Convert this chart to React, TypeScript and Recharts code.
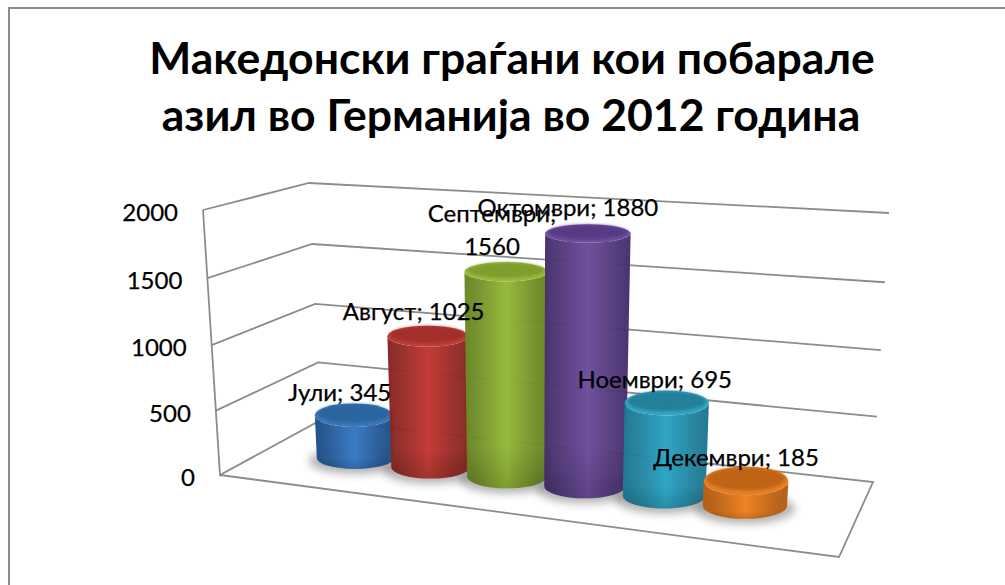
import { BarChart, Bar, XAxis, YAxis, CartesianGrid, LabelList } from "recharts";

// asylum requests per month
const categories = ["Јули", "Август", "Септември", "Октомври", "Ноември", "Декември"];
const requests = [345, 1025, 1560, 1880, 695, 185];
const yTicks = [0, 500, 1000, 1500, 2000];
const titleLines = ["Македонски граѓани кои побарале", "азил во Германија во 2012 година"];

const rows = categories.map((month, i) => ({ month, requests: requests[i] }));

// body colours per cylinder: edge, centre, top face, rim
const palette = [
  ["#20528c", "#3a7cc6", "#2a659f", "#3a78ba"],
  ["#8c2623", "#c43c36", "#a32f2b", "#bd3f3a"],
  ["#6c8a26", "#96bb3a", "#7f9e2e", "#98bc3e"],
  ["#4a3270", "#70509f", "#573b84", "#6f519c"],
  ["#1f7a94", "#2fa6c6", "#24809b", "#33a4c4"],
  ["#b85f14", "#ee8424", "#bf6418", "#e67e24"],
];

const WIDTH = 1005;
const HEIGHT = 585;
const AXIS_W = 40;
const plot = { x: 200, y: 200, w: 680, h: 300 };

// corners of the 3D box on screen (front/back, bottom/top, left/right)
const box = {
  fbl: [220, 475], ftl: [203, 210], fbr: [839, 557], ftr: [860, 255],
  bbl: [321, 420], btl: [309, 183], bbr: [873, 482], btr: [889, 213],
};

const mix = (a: number[], b: number[], t: number) => [a[0] + (b[0] - a[0]) * t, a[1] + (b[1] - a[1]) * t];

// maps u (across), v (up) and d (into the screen), all 0..1, to screen px
function project(u: number, v: number, d: number) {
  const uu = u / (1 + 0.07 * (1 - u));
  const vv = v / (1 + 0.04 * (1 - v));
  const front = mix(mix(box.fbl, box.fbr, uu), mix(box.ftl, box.ftr, uu), vv);
  const back = mix(mix(box.bbl, box.bbr, uu), mix(box.btl, box.btr, uu), vv);
  return mix(front, back, d);
}

const toU = (x: number) => (x - plot.x) / plot.w;
const toV = (y: number) => (plot.y + plot.h - y) / plot.h;

// ellipse of a cylinder slice at height v
function slice(u: number, ru: number, v: number) {
  const [cx, cy] = project(u, v, 0.5);
  const rx = Math.abs(project(u + ru, v, 0.5)[0] - project(u - ru, v, 0.5)[0]) / 2;
  const depth = Math.abs(project(u, v, 1)[1] - project(u, v, 0)[1]);
  return { cx, cy, rx, ry: Math.hypot(0.19 * depth, 6) };
}

function Cylinder(props: any) {
  const { x, y, width, height, index } = props;
  const ru = (width / plot.w / 2) * 1.03;
  const u = toU(x + width / 2);
  const top = slice(u, ru, toV(y));
  const base = slice(u, ru, toV(y + height));
  const baseRy = base.ry * 0.88;
  const colors = palette[index];
  const body =
    `M${top.cx - top.rx} ${top.cy} L${base.cx - base.rx} ${base.cy} ` +
    `A${base.rx} ${baseRy} 0 0 0 ${base.cx + base.rx} ${base.cy} ` +
    `L${top.cx + top.rx} ${top.cy} ` +
    `A${top.rx} ${top.ry} 0 0 1 ${top.cx - top.rx} ${top.cy} Z`;
  return (
    <g>
      <ellipse cx={base.cx} cy={base.cy + 3} rx={base.rx + 8} ry={baseRy + 2} fill="#555" opacity={0.45} filter="url(#floorShadow)" />
      <path d={body} fill={`url(#side${index})`} />
      <path d={body} fill="url(#bottomShade)" />
      <ellipse cx={top.cx} cy={top.cy} rx={top.rx} ry={top.ry} fill={colors[3]} />
      <ellipse cx={top.cx} cy={top.cy - top.ry * 0.14} rx={top.rx * 0.93} ry={top.ry * 0.8} fill={colors[2]} filter="url(#softEdge)" />
    </g>
  );
}

// shifts of the value labels so they sit over the bar tops
const labelShift = [
  [-14, -10],
  [-14, -14],
  [-14, -15],
  [-20, -16],
  [-12, -11],
  [-10, -9],
];

const LABEL_SIZE = 24;
const textInk = { fill: "#000", stroke: "#000", strokeWidth: 0.25 };

function ValueLabel(props: any) {
  const { x, y, width, index, value } = props;
  const u = toU(x + width / 2);
  const s = slice(u, width / plot.w / 2, toV(y));
  const cx = s.cx + labelShift[index][0];
  const cy = s.cy - s.ry + labelShift[index][1];
  const name = categories[index];
  if (name === "Септември") {
    return (
      <text x={cx} textAnchor="middle" fontSize={LABEL_SIZE} {...textInk}>
        <tspan x={cx} y={cy - 25}>{name};</tspan>
        <tspan x={cx} y={cy + 8}>{value}</tspan>
      </text>
    );
  }
  return (
    <text x={cx} y={cy + 8} textAnchor="middle" fontSize={LABEL_SIZE} {...textInk}>
      {name}; {value}
    </text>
  );
}

function YTick(props: any) {
  const { y, payload } = props;
  const [px, py] = project(0, toV(y), 0);
  return (
    <text x={px - 25} y={py + 11} textAnchor="end" fontSize={LABEL_SIZE} {...textInk}>
      {payload.value}
    </text>
  );
}

const gridStroke = "#8c8c8c";

// back wall and side wall lines, the floor outline comes with the zero line
function GridLine(props: any) {
  const v = toV(props.y1);
  const a = project(0, v, 0);
  const b = project(0, v, 1);
  const c = project(1, v, 1);
  let points = [a, b, c].map((p) => p.join(",")).join(" ");
  if (v < 0.001) {
    const e = project(1, 0, 0);
    points = [project(0, 1, 0), a, b, c, e, a].map((p) => p.join(",")).join(" ");
  }
  return <polyline key={props.y1} points={points} fill="none" stroke={gridStroke} strokeWidth={1.8} />;
}

export default function App() {
  return (
    <div style={{ position: "absolute", left: 0, top: 0, width: WIDTH, height: HEIGHT, overflow: "hidden", background: "#fff", fontFamily: "Lato, 'Open Sans', sans-serif" }}>
      <div style={{ position: "absolute", left: 8, top: 7, width: 1100, height: 700, border: "2px solid #8c8c8c" }} />
      <BarChart
        width={WIDTH}
        height={HEIGHT}
        data={rows}
        barCategoryGap={0}
        margin={{ top: plot.y, left: plot.x - AXIS_W, right: WIDTH - plot.x - plot.w, bottom: HEIGHT - plot.y - plot.h }}
      >
        <defs>
          {palette.map((c, i) => (
            <linearGradient key={i} id={`side${i}`} x1="0" y1="0" x2="1" y2="0">
              <stop offset="0%" stopColor={c[0]} />
              <stop offset="12%" stopColor={c[0]} stopOpacity={0.95} />
              <stop offset="50%" stopColor={c[1]} />
              <stop offset="88%" stopColor={c[0]} stopOpacity={0.95} />
              <stop offset="100%" stopColor={c[0]} />
            </linearGradient>
          ))}
          <linearGradient id="bottomShade" x1="0" y1="0" x2="0" y2="1">
            <stop offset="80%" stopColor="#000" stopOpacity={0} />
            <stop offset="100%" stopColor="#000" stopOpacity={0.15} />
          </linearGradient>
          <filter id="floorShadow" x="-30%" y="-50%" width="160%" height="200%">
            <feGaussianBlur stdDeviation="4" />
          </filter>
          <filter id="softEdge" x="-10%" y="-20%" width="120%" height="140%">
            <feGaussianBlur stdDeviation="1.6" />
          </filter>
        </defs>
        <CartesianGrid vertical={false} horizontal={GridLine} />
        <XAxis dataKey="month" hide padding={{ left: 0.0865 * plot.w, right: 0.113 * plot.w }} />
        <YAxis width={AXIS_W} domain={[0, 2000]} ticks={yTicks} interval={0} axisLine={false} tickLine={false} tick={YTick} />
        <Bar dataKey="requests" isAnimationActive={false} shape={Cylinder}>
          <LabelList dataKey="requests" content={ValueLabel} />
        </Bar>
        <text textAnchor="middle" fontSize={44.5} fontWeight={700} fill="#000">
          <tspan x={512} y={74}>{titleLines[0]}</tspan>
          <tspan x={511} y={131}>{titleLines[1]}</tspan>
        </text>
      </BarChart>
    </div>
  );
}
